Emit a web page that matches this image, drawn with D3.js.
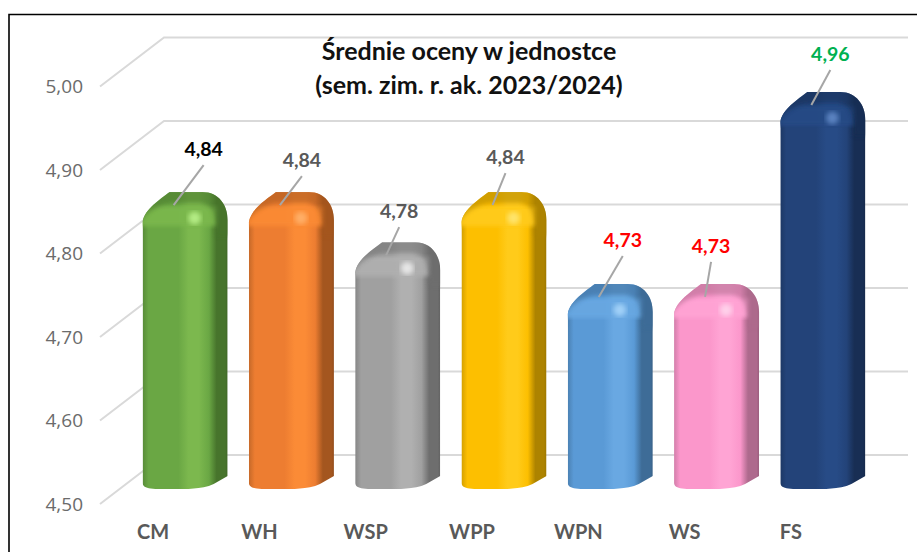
<!DOCTYPE html>
<html>
<head>
<meta charset="utf-8">
<script src="https://cdn.jsdelivr.net/npm/d3@7"></script>
<style>
html, body { margin: 0; padding: 0; background: #fff; overflow: hidden; }
svg { display: block; }
.grid { fill: none; stroke: #d9d9d9; stroke-width: 2; }
.axis path, .axis line { display: none; }
.ylab text { font-family: "Open Sans", sans-serif; font-size: 19px; fill: #6b6b6b; }
.xlab text { font-family: Lato, sans-serif; font-weight: 700; font-size: 20px; fill: #595959; }
.title { font-family: Lato, sans-serif; font-weight: 700; font-size: 25px; fill: #111; text-anchor: middle; }
.val { font-family: Lato, sans-serif; font-weight: 700; font-size: 19.5px; text-anchor: middle; }
.leader { stroke: #a6a6a6; stroke-width: 2; }
</style>
</head>
<body>
<div id="chart"></div>
<script>
// chart values
var categories = ["CM", "WH", "WSP", "WPP", "WPN", "WS", "FS"];
var values = [4.84, 4.84, 4.78, 4.84, 4.73, 4.73, 4.96];
var yTicks = [4.5, 4.6, 4.7, 4.8, 4.9, 5.0];
var titleLines = ["Średnie oceny w jednostce", "(sem. zim. r. ak. 2023/2024)"];

// colours: main, light band, dark bevel, highlight
var barColors = [
    ["#6aa744", "#7cb84e", "#47742c", "#b4ec84"],
    ["#ed7d31", "#fb8b36", "#a4561f", "#ffae66"],
    ["#a0a0a0", "#b0b0b0", "#6e6e6e", "#e6e6e6"],
    ["#fdbf00", "#ffcb1a", "#ad8300", "#ffe46a"],
    ["#5a9ad6", "#69a8e2", "#3e6c97", "#a0d0f8"],
    ["#fb97cb", "#ffa4d4", "#ae6a8d", "#ffd0ea"],
    ["#234379", "#274b86", "#182e54", "#5a82c0"]
];
var labelColors = ["#000000", "#595959", "#595959", "#595959", "#ff0000", "#ff0000", "#00b050"];
// how far each value label sits from its leader anchor
var labelShift = [[30, -49], [22, -38], [13, -37], [13, -41], [24, -50], [6, -44], [19, -44]];

var width = 917, height = 552;
var depth = { x: 64, y: -49 };   // offset of the back wall from the front of the floor
var barDepth = { x: 32, top: 21, base: 34 };

var svg = d3.select("#chart").append("svg").attr("width", width).attr("height", height);
var defs = svg.append("defs");

// frame round the picture
svg.append("path")
    .attr("d", "M9,552V14.5H917")
    .attr("fill", "none").attr("stroke", "#000").attr("stroke-width", 1.6);

var y = d3.scaleLinear().domain([4.5, 5]).range([504, 86.5]);
var x = d3.scaleBand().domain(categories).range([100, 844]).paddingInner(0.2).paddingOuter(0.1);

// grid: side wall then back wall
svg.append("g").selectAll("path").data(yTicks).enter().append("path")
    .attr("class", "grid")
    .attr("d", function(d) {
        var by = y(d) + depth.y;
        return "M100," + y(d) + "L" + (100 + depth.x) + "," + by + "H908";
    });

var yAxis = d3.axisLeft(y).tickValues(yTicks).tickSize(0).tickPadding(0)
    .tickFormat(function(d) { return d3.format(".2f")(d).replace(".", ","); });
svg.append("g").attr("class", "axis ylab").attr("transform", "translate(83,0)").call(yAxis);

var xAxis = d3.axisBottom(x).tickSize(0).tickPadding(0);
svg.append("g").attr("class", "axis xlab").attr("transform", "translate(0,525)").call(xAxis);

defs.append("filter").attr("id", "soft").append("feGaussianBlur").attr("stdDeviation", 2);
defs.append("filter").attr("id", "soft2").append("feGaussianBlur").attr("stdDeviation", 2.4);

function barPath(l, w, t, b) {
    return "M" + l + "," + (t + 30) +
        "C" + (l + 2) + "," + (t + 17) + " " + (l + 18) + "," + (t + 7) + " " + (l + 27) + "," + t +
        "H" + (l + 60) +
        "C" + (l + 76) + "," + t + " " + (l + w) + "," + (t + 13) + " " + (l + w) + "," + (t + 28) +
        "V" + (b - 13) +
        "L" + (l + w - 14) + "," + (b - 5) +
        "C" + (l + w - 20) + "," + (b - 2) + " " + (l + w - 28) + "," + (b - 1) + " " + (l + w - 34) + "," + (b - 0.5) +
        "C" + (l + 38) + "," + (b + 1) + " " + (l + 20) + "," + (b + 1) + " " + (l + 8) + "," + (b - 0.5) +
        "C" + (l + 3) + "," + (b - 1) + " " + l + "," + (b - 3) + " " + l + "," + (b - 6) + "Z";
}

var bars = svg.append("g").selectAll("g").data(values).enter().append("g");

bars.each(function(v, i) {
    var g = d3.select(this);
    var c = barColors[i];
    var l = x(categories[i]) + barDepth.x;
    var w = x.bandwidth();
    var t = y(v) + depth.y + barDepth.top;
    var b = y(4.5) + depth.y + barDepth.base;

    var grad = defs.append("linearGradient").attr("id", "body" + i);
    [[0, d3.color(c[0]).darker(0.5)], [0.07, c[0]], [0.42, c[0]], [0.54, c[1]], [0.66, c[1]],
     [0.78, c[0]], [0.87, c[2]], [0.97, c[2]], [1, d3.color(c[2]).darker(0.3)]].forEach(function(s) {
        grad.append("stop").attr("offset", s[0]).attr("stop-color", s[1]);
    });

    var clipId = "clip" + i;
    defs.append("clipPath").attr("id", clipId).append("path").attr("d", barPath(l, w, t, b));

    var inner = g.append("g").attr("clip-path", "url(#" + clipId + ")");
    inner.append("rect").attr("x", l).attr("y", t).attr("width", w).attr("height", b - t)
        .attr("fill", "url(#body" + i + ")");

    // lighter strip under the top bevel
    inner.append("rect").attr("x", l - 4).attr("y", t + 14).attr("width", 78).attr("height", 20)
        .attr("fill", c[1]).attr("opacity", 0.9).attr("filter", "url(#soft)");
    // dark bevel round the top, everything outside the face
    inner.append("path")
        .attr("d", "M" + (l - 10) + "," + (t - 10) + "H" + (l + w + 10) + "V" + (t + 44) + "H" + (l + 73) + "V" + (t + 34) +
            "C" + (l + 73) + "," + (t + 20) + " " + (l + 68) + "," + (t + 11) + " " + (l + 58) + "," + (t + 11) +
            "H" + (l + 30) +
            "C" + (l + 18) + "," + (t + 11) + " " + (l + 4) + "," + (t + 20) + " " + (l - 3) + "," + (t + 30) +
            "V" + (t + 44) + "H" + (l - 10) + "Z")
        .attr("fill", c[2]).attr("opacity", 0.55).attr("filter", "url(#soft)");
    // specular spot
    inner.append("ellipse").attr("cx", l + 52).attr("cy", t + 26).attr("rx", 6.5).attr("ry", 6.5)
        .attr("fill", c[3]).attr("filter", "url(#soft2)");

    // leader and value label
    var ax = l + 31, ay = t + 13;
    var tx = ax + labelShift[i][0], ty = ay + labelShift[i][1];
    g.append("line").attr("class", "leader")
        .attr("x1", ax).attr("y1", ay).attr("x2", tx).attr("y2", ty + 9);
    g.append("text").attr("class", "val").attr("x", tx).attr("y", ty)
        .attr("fill", labelColors[i])
        .text(d3.format(".2f")(v).replace(".", ","));
});

svg.selectAll(".title").data(titleLines).enter().append("text")
    .attr("class", "title")
    .attr("x", 469)
    .attr("y", function(d, i) { return 60 + i * 34; })
    .text(function(d) { return d; });
</script>
</body>
</html>
